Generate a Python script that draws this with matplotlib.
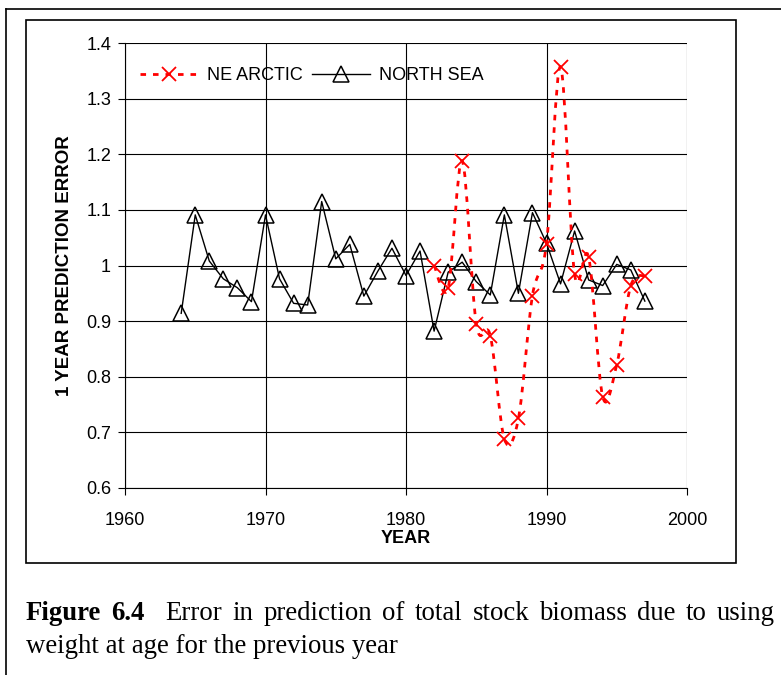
import matplotlib
matplotlib.use('Agg')
import matplotlib.pyplot as plt
from matplotlib.lines import Line2D
from matplotlib.patches import Rectangle, PathPatch
from matplotlib.path import Path

# North Sea, 1964-1997
ns_years = list(range(1964, 1998))
ns_error = [0.914, 1.091, 1.008, 0.976, 0.960, 0.935, 1.091, 0.976, 0.932, 0.929,
            1.115, 1.012, 1.038, 0.945, 0.990, 1.031, 0.982, 1.026, 0.882, 0.988,
            1.006, 0.971, 0.947, 1.091, 0.950, 1.095, 1.040, 0.967, 1.062, 0.974,
            0.964, 1.002, 0.992, 0.936]

# NE Arctic, 1982-1997
ne_years = list(range(1982, 1998))
ne_error = [1.000, 0.960, 1.188, 0.895, 0.874, 0.688, 0.725, 0.946, 1.039, 1.357,
            0.984, 1.015, 0.764, 0.822, 0.964, 0.982]

caption_line1 = ['Figure', '6.4', 'Error', 'in', 'prediction', 'of', 'total', 'stock',
                 'biomass', 'due', 'to', 'using']
caption_line2 = 'weight at age for the previous year'

W, H = 781, 675
plt.rcParams['font.family'] = ['Liberation Sans', 'DejaVu Sans']


def smooth_path(xs, ys):
    # Excel style smoothed line: cubic bezier through every point
    pts = list(zip(xs, ys))
    verts = [pts[0]]
    codes = [Path.MOVETO]
    n = len(pts)
    for i in range(n - 1):
        p0 = pts[i - 1] if i > 0 else pts[i]
        p1 = pts[i]
        p2 = pts[i + 1]
        p3 = pts[i + 2] if i + 2 < n else pts[i + 1]
        c1 = (p1[0] + (p2[0] - p0[0]) / 6, p1[1] + (p2[1] - p0[1]) / 6)
        c2 = (p2[0] - (p3[0] - p1[0]) / 6, p2[1] - (p3[1] - p1[1]) / 6)
        verts += [c1, c2, p2]
        codes += [Path.CURVE4] * 3
    return Path(verts, codes)


fig = plt.figure(figsize=(W / 100, H / 100), dpi=100)

# outer page border and chart frame
fig.add_artist(Line2D([6 / W, 6 / W], [0, 1 - 9 / H], color='black', lw=1.2))
fig.add_artist(Line2D([6 / W, 1], [1 - 9 / H, 1 - 9 / H], color='black', lw=1.2))
fig.add_artist(Rectangle((26 / W, 1 - 563 / H), 710 / W, 543 / H, fill=False,
                         edgecolor='black', lw=1.2))

ax = fig.add_axes([125 / W, 1 - 488 / H, 562 / W, 445 / H])
ax.set_xlim(1960, 2000)
ax.set_ylim(0.6, 1.4)
ax.set_xticks([1960, 1970, 1980, 1990, 2000])
ax.set_yticks([0.6, 0.7, 0.8, 0.9, 1.0, 1.1, 1.2, 1.3, 1.4])
ax.set_yticklabels(['0.6', '0.7', '0.8', '0.9', '1', '1.1', '1.2', '1.3', '1.4'])
ax.grid(True, color='black', lw=0.8)
for s in ax.spines.values():
    s.set_visible(False)
ax.spines['left'].set_visible(True)
ax.spines['bottom'].set_visible(True)
ax.tick_params(direction='out', length=5, width=0.8, labelsize=13)
ax.tick_params(axis='x', pad=12)
ax.tick_params(axis='y', pad=5)

ax.plot(ns_years, ns_error, color='black', lw=1, marker='^', ms=11.5,
        mfc='none', mec='black', mew=1.1, zorder=3)

dots = (0, (2, 2.5))
ax.add_patch(PathPatch(smooth_path(ne_years, ne_error), fill=False, edgecolor='red',
                       lw=2, linestyle=dots, zorder=4))
ax.plot(ne_years, ne_error, ls='none', marker='x', ms=10, mec='red', mew=1.3, zorder=5)

ax.set_xlabel('YEAR', fontsize=13, fontweight='bold', labelpad=1)
ax.set_ylabel('1 YEAR PREDICTION ERROR', fontsize=13.5, fontweight='bold', labelpad=9)

handles = [Line2D([], [], color='red', lw=2, ls=dots, marker='x', ms=10, mew=1.3),
           Line2D([], [], color='black', lw=1, marker='^', ms=11.5, mfc='none', mew=1.1)]
ax.legend(handles, ['NE ARCTIC', 'NORTH SEA'], loc='center left',
          bbox_to_anchor=(0.027, 0.926), ncol=2, frameon=False, fontsize=13,
          handlelength=3.2, handletextpad=0.5, columnspacing=0.5,
          borderpad=0, borderaxespad=0)

# caption, first line justified between the frame edges
serif = ['Liberation Serif', 'DejaVu Serif']
fig.canvas.draw()
renderer = fig.canvas.get_renderer()
words = []
for i, w in enumerate(caption_line1):
    t = fig.text(0, 1 - 620 / H, w, family=serif, fontsize=19.3, va='baseline',
                 fontweight='bold' if i < 2 else 'normal')
    words.append(t)
widths = [t.get_window_extent(renderer).width for t in words]
gaps = [1.0] * (len(words) - 1)
gaps[1] = 2.0
unit = (775 - 26 - sum(widths)) / sum(gaps)
x = 26
for i, t in enumerate(words):
    t.set_x(x / W)
    if i < len(gaps):
        x += widths[i] + gaps[i] * unit
fig.text(26 / W, 1 - 653 / H, caption_line2, family=serif, fontsize=19.3, va='baseline')

fig.savefig('out.png', dpi=100)
